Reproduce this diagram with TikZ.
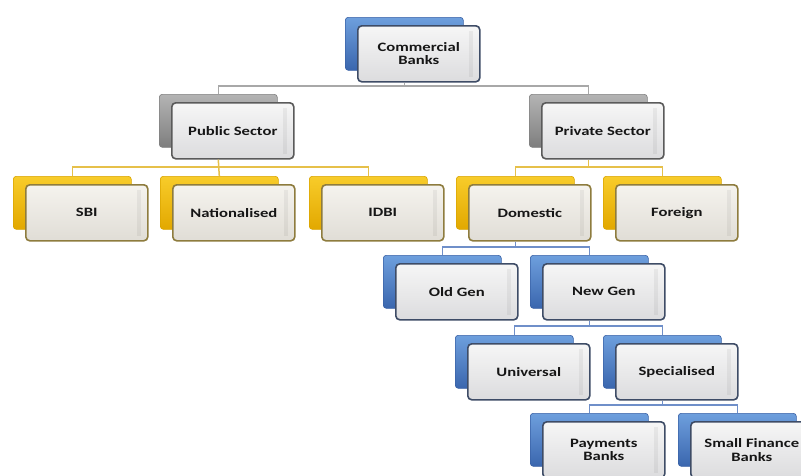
\documentclass[tikz,border=0pt]{standalone}
\usepackage{fontspec}
\newfontfamily\lblfont[FakeStretch=1.3]{Carlito}
\definecolor{bluetop}{HTML}{6E9FDD}
\definecolor{bluebot}{HTML}{3A66AE}
\definecolor{bluedk}{HTML}{3A62A6}
\definecolor{graytop}{HTML}{B4B4B4}
\definecolor{graybot}{HTML}{7E7E7E}
\definecolor{graydk}{HTML}{808080}
\definecolor{goldtop}{HTML}{F8CC2A}
\definecolor{goldbot}{HTML}{E2A800}
\definecolor{golddk}{HTML}{D9A400}
\definecolor{frtop}{HTML}{F6F6F6}
\definecolor{frbot}{HTML}{DCDCDE}
\definecolor{frgoldtop}{HTML}{F5F3EE}
\definecolor{frgoldbot}{HTML}{E0DDD6}
\definecolor{bdblue}{HTML}{3E4C66}
\definecolor{bdgray}{HTML}{5A5A5A}
\definecolor{bdgold}{HTML}{8E7C3E}
\definecolor{txt}{HTML}{161616}
\definecolor{cgrayo}{HTML}{A8A8A8}
\definecolor{cgoldo}{HTML}{E6C04A}
\definecolor{cblueo}{HTML}{6F8FC9}
\tikzset{
  backbox/.style={rectangle, rounded corners=3pt, minimum width=118pt, minimum height=53pt, inner sep=0pt, anchor=north west, line width=0.6pt},
  bblue/.style={backbox, draw=bluedk, top color=bluetop, bottom color=bluebot},
  bgray/.style={backbox, draw=graydk, top color=graytop, bottom color=graybot},
  bgold/.style={backbox, draw=golddk, top color=goldtop, bottom color=goldbot},
  frontbox/.style={rectangle, rounded corners=4pt, minimum width=122pt, minimum height=56pt, inner sep=0pt, anchor=north west, line width=1.6pt, top color=frtop, bottom color=frbot, text=txt, align=center, font=\lblfont\bfseries\fontsize{12.8}{13.5}\selectfont},
  fblue/.style={frontbox, draw=bdblue},
  fgray/.style={frontbox, draw=bdgray},
  fgold/.style={frontbox, draw=bdgold, top color=frgoldtop, bottom color=frgoldbot},
  strip/.style={fill=black, opacity=0.05},
  conn/.style={line width=1.5pt},
  cgray/.style={conn, draw=cgrayo},
  cgold/.style={conn, draw=cgoldo},
  cblue/.style={conn, draw=cblueo},
}
\begin{document}
\begin{tikzpicture}[x=1pt,y=-1pt]
\useasboundingbox (0,0) rectangle (801,475);
\clip (0,0) rectangle (801,475);
\fill[white] (0,0) rectangle (801,475);
% junction levels
\coordinate (j1) at (0,86);
\coordinate (j2) at (0,167);
\coordinate (j3) at (0,247);
\coordinate (j4) at (0,326);
\coordinate (j5) at (0,405);
% back boxes
\node[bblue] (bcom) at (345,17) {};
\node[bgray] (bpub) at (159,94) {};
\node[bgray] (bpri) at (529,94) {};
\node[bgold] (bsbi) at (13,176) {};
\node[bgold] (bnat) at (160,176) {};
\node[bgold] (bidbi) at (309,176) {};
\node[bgold] (bdom) at (456,176) {};
\node[bgold] (bfrg) at (603,176) {};
\node[bblue] (bold) at (383,255) {};
\node[bblue] (bnew) at (530,255) {};
\node[bblue] (buni) at (455,335) {};
\node[bblue] (bspe) at (603,335) {};
\node[bblue] (bpay) at (530,413) {};
\node[bblue] (bsfb) at (678,413) {};
% front boxes
\node[fblue] (com) at (357,25) {Commercial\\Banks};
\node[fgray] (pub) at (171,102) {Public Sector};
\node[fgray] (pri) at (541,102) {Private Sector};
\node[fgold] (sbi) at (25,184) {SBI};
\node[fgold] (nat) at (172,184) {Nationalised};
\node[fgold] (idbi) at (321,184) {IDBI};
\node[fgold] (dom) at (468,184) {Domestic};
\node[fgold] (frg) at (615,184) {Foreign};
\node[fblue] (old) at (395,263) {Old Gen};
\node[fblue] (new) at (542,263) {New Gen};
\node[fblue] (uni) at (467,343) {Universal};
\node[fblue] (spe) at (615,343) {Specialised};
\node[fblue] (pay) at (542,421) {Payments\\Banks};
\node[fblue] (sfb) at (690,421) {Small Finance\\Banks};
% subtle right-side strips
\foreach \n in {com,pub,pri,sbi,nat,idbi,dom,frg,old,new,uni,spe,pay,sfb}{
  \fill[strip] ([xshift=-12pt,yshift=-6pt]\n.north east) rectangle ([xshift=-8pt,yshift=6pt]\n.south east);
}
% connectors
\draw[cgray] (bcom |- com.south) |- (bpub |- j1) -- (bpub.north);
\draw[cgray] (bcom |- com.south) |- (bpri |- j1) -- (bpri.north);
\draw[cgold] (bpub |- pub.south) |- (bsbi |- j2) -- (bsbi.north);
\draw[cgold] (bpub |- pub.south) -- (bnat.north);
\draw[cgold] (bpub |- pub.south) |- (bidbi |- j2) -- (bidbi.north);
\draw[cgold] (bpri |- pri.south) |- (bdom |- j2) -- (bdom.north);
\draw[cgold] (bpri |- pri.south) |- (bfrg |- j2) -- (bfrg.north);
\draw[cblue] (bdom |- dom.south) |- (bold |- j3) -- (bold.north);
\draw[cblue] (bdom |- dom.south) |- (bnew |- j3) -- (bnew.north);
\draw[cblue] (bnew |- new.south) |- (buni |- j4) -- (buni.north);
\draw[cblue] (bnew |- new.south) |- (bspe |- j4) -- (bspe.north);
\draw[cblue] (bspe |- spe.south) |- (bpay |- j5) -- (bpay.north);
\draw[cblue] (bspe |- spe.south) |- (bsfb |- j5) -- (bsfb.north);
\end{tikzpicture}
\end{document}
